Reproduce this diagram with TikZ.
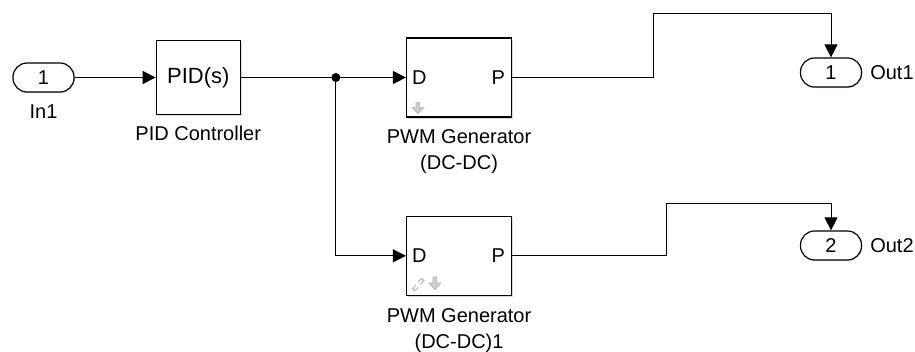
\documentclass[tikz,border=0pt]{standalone}
\usepackage{fontspec}
\setmainfont{Liberation Sans}
\usetikzlibrary{positioning, arrows.meta, shadows}

\begin{document}
\begin{tikzpicture}[x=1pt, y=-1pt, font=\fontsize{20}{26}\selectfont,
 blk/.style={draw, line width=1.3pt, fill=white, minimum width=105pt, minimum height=79pt,
  drop shadow={shadow xshift=1.5pt, shadow yshift=-1.5pt, opacity=0.3}},
 pill/.style={draw, line width=1.2pt, fill=white, rounded corners=14pt, minimum width=61pt,
  minimum height=29pt, inner sep=0pt, drop shadow={shadow xshift=1pt, shadow yshift=-1pt, opacity=0.25}},
 lbl/.style={inner sep=0pt, align=center},
 sig/.style={line width=1pt, -{Triangle[length=13pt,width=13pt]}},
 icon/.style={fill=black!20, draw=black!30, line width=0.5pt},
 linkc/.style={draw=black!25, line width=1.2pt, rounded corners=2pt}]
\useasboundingbox (0,0) rectangle (915,351);

\node[pill](in1) at (43.5,77.5){1};
\node[lbl, below=12pt of in1](in1lbl){In1};
\node[blk, minimum width=84pt, minimum height=74pt, font=\fontsize{22}{24}\selectfont, right=81pt of in1](pid){PID(s)};
\node[lbl, below=11pt of pid](pidlbl){PID Controller};

\node[blk, right=165pt of pid](pwm1){};
\node[lbl, right=6pt of pwm1.west](pwm1d){D};
\node[lbl, left=7pt of pwm1.east](pwm1p){P};
\node[lbl, below=12pt of pwm1](pwm1lbl){PWM Generator\\(DC-DC)};

\node[blk, below=98pt of pwm1](pwm2){};
\node[lbl, right=6pt of pwm2.west](pwm2d){D};
\node[lbl, left=7pt of pwm2.east](pwm2p){P};
\node[lbl, below=12pt of pwm2](pwm2lbl){PWM Generator\\(DC-DC)1};

\node[pill](out1) at (831,72.5){1};
\node[lbl, right=8pt of out1](out1lbl){Out1};
\node[pill](out2) at (831,245.5){2};
\node[lbl, right=8pt of out2](out2lbl){Out2};

\coordinate[right=95pt of pid.east](split);
\coordinate(bend1) at (653,13);
\coordinate(bend2) at (666,203);

\draw[sig](in1)--(pid);
\draw[line width=1pt](pid)--(split);
\draw[sig](split)--(pwm1.west);
\draw[sig](split)|-(pwm2.west);
\fill(split)circle(4.5pt);

\draw[sig](pwm1.east)-|(bend1)-|(out1.north);
\draw[sig](pwm2.east)-|(bend2)-|(out2.north);

\begin{scope}[shift={(pwm1.south west)}]
\filldraw[icon](10,-15)--(14,-15)--(14,-10)--(18,-10)--(12,-4)--(6,-10)--(10,-10)--cycle;
\end{scope}
\begin{scope}[shift={(pwm2.south west)}]
\filldraw[icon](27,-19)--(31,-19)--(31,-13)--(35,-13)--(29,-6)--(23,-13)--(27,-13)--cycle;
\draw[linkc](10,-11)--(6.5,-7.5)--(9,-5)--(12.5,-8.5);
\draw[linkc](12,-14)--(15.5,-17.5)--(18,-15)--(14.5,-11.5);
\end{scope}

\end{tikzpicture}
\end{document}
